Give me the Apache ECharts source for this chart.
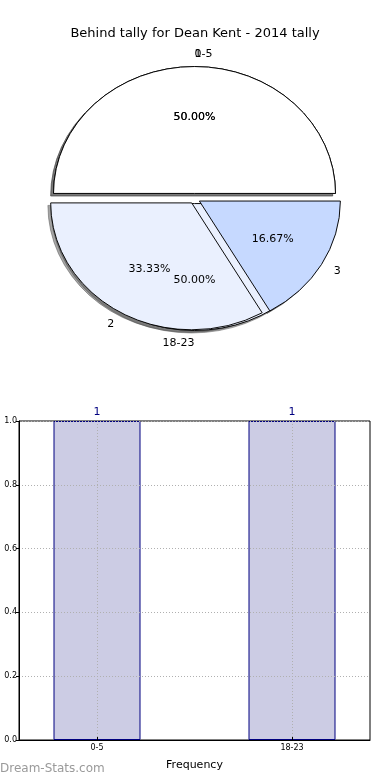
<!DOCTYPE html>
<html>
<head>
<meta charset="utf-8">
<script src="https://cdn.jsdelivr.net/npm/echarts@6/dist/echarts.min.js"></script>
<style>
html,body{margin:0;padding:0;background:#fff;}
#chart{width:390px;height:780px;}
</style>
</head>
<body>
<div id="chart"></div>
<script>
// ---- data ----
var titleText = 'Behind tally for Dean Kent - 2014 tally';
var pieACategories = ['0-5', '18-23'];
var pieAValues = [1, 1];
var pieBCategories = ['1', '2', '3'];
var pieBValues = [3, 2, 1];
var barCategories = ['0-5', '18-23'];
var barValues = [1, 1];

// ---- style / layout ----
var pieAColors = ['#ffffff', '#eaf0fe'];
var pieBColors = ['#ffffff', '#eaf0fe', '#c6d9ff'];
var CX = 194.5, CY = 198.5, R = 141, SY = 0.9, EXPLODE = 0.04;
var SHX = -2.8, SHY = 2.5;
var FONT = 'DejaVu Sans';

function geom(vals, i) {
  var total = vals.reduce(function (a, b) { return a + b; }, 0);
  var t1 = 0;
  for (var k = 0; k < i; k++) t1 += vals[k] / total;
  var t2 = t1 + vals[i] / total;
  var mid = Math.PI * (t1 + t2);
  var cx = CX + EXPLODE * R * Math.cos(mid);
  var cy = CY - EXPLODE * R * SY * Math.sin(mid);
  return { a1: 2 * Math.PI * t1, a2: 2 * Math.PI * t2, mid: mid, cx: cx, cy: cy, frac: vals[i] / total };
}

function sectorEl(g, dx, dy, fill, stroke) {
  return {
    type: 'sector',
    x: g.cx + dx, y: g.cy + dy, scaleY: SY,
    shape: { cx: 0, cy: 0, r: R, r0: 0, startAngle: -g.a1, endAngle: -g.a2, clockwise: false },
    style: { fill: fill, stroke: stroke, lineWidth: 1, strokeNoScale: true }
  };
}

function pieSeries(cats, vals, colors, role, z) {
  return {
    type: 'custom',
    coordinateSystem: 'none',
    z: z,
    silent: true,
    data: vals.map(function (v, i) { return { name: cats[i], value: [v] }; }),
    renderItem: function (params, api) {
      var i = params.dataIndex;
      var g = geom(vals, i);
      if (role === 'shadow') {
        return sectorEl(g, SHX, SHY, 'rgba(77,77,77,0.5)', 'rgba(77,77,77,0.5)');
      }
      if (role === 'wedge') {
        return sectorEl(g, 0, 0, colors[i], '#000');
      }
      var c = Math.cos(g.mid), s = Math.sin(g.mid);
      var lx = g.cx + 1.1 * R * c, ly = g.cy - 1.1 * R * SY * s;
      var px = g.cx + 0.6 * R * c, py = g.cy - 0.6 * R * SY * s;
      return {
        type: 'group',
        children: [
          { type: 'text', x: lx, y: ly, style: { text: cats[i], fill: '#000', fontSize: 11, fontFamily: FONT, align: c > 0 ? 'left' : 'right', verticalAlign: 'middle' } },
          { type: 'text', x: px, y: py, style: { text: (g.frac * 100).toFixed(2) + '%', fill: '#000', fontSize: 11, fontFamily: FONT, align: 'center', verticalAlign: 'middle' } }
        ]
      };
    }
  };
}

var chart = echarts.init(document.getElementById('chart'), null, { renderer: 'canvas' });

var option = {
  animation: false,
  backgroundColor: '#fff',
  textStyle: { fontFamily: FONT },
  title: {
    text: titleText, left: 'center', top: 22,
    textStyle: { fontSize: 13, fontWeight: 'normal', color: '#000', fontFamily: FONT }
  },
  grid: { left: 19, right: 20, top: 421, bottom: 40, show: true, borderColor: '#000', borderWidth: 1, backgroundColor: 'transparent' },
  xAxis: {
    type: 'value', min: -0.4, max: 1.4, z: 5,
    name: 'Frequency', nameLocation: 'middle', nameGap: 20,
    nameTextStyle: { fontSize: 11, color: '#000', fontFamily: FONT },
    axisLine: { show: true, onZero: false, lineStyle: { color: '#000' } },
    axisTick: { show: true, inside: true, length: 3, customValues: [0, 1], lineStyle: { color: '#000' } },
    axisLabel: {
      customValues: [0, 1], fontSize: 8, color: '#000', margin: 4,
      formatter: function (v) { return barCategories[Math.round(v)]; }
    },
    splitLine: { show: false }
  },
  yAxis: {
    type: 'value', min: 0, max: 1, interval: 0.2, z: 5,
    axisLine: { show: true, onZero: false, lineStyle: { color: '#000' } },
    axisTick: { show: true, length: 3, lineStyle: { color: '#000' } },
    axisLabel: { fontSize: 8, color: '#000', margin: 2, formatter: function (v) { return v.toFixed(1); } },
    splitLine: { show: true, lineStyle: { color: '#b0b0b0', type: [1, 2], width: 1 } }
  },
  graphic: [
    { type: 'text', left: 0, top: 763, style: { text: 'Dream-Stats.com', fill: '#9a9a9a', fontSize: 12, fontWeight: 'normal', fontFamily: FONT } }
  ],
  series: [
    pieSeries(pieACategories, pieAValues, pieAColors, 'shadow', 1),
    pieSeries(pieBCategories, pieBValues, pieBColors, 'shadow', 1),
    pieSeries(pieACategories, pieAValues, pieAColors, 'wedge', 2),
    pieSeries(pieBCategories, pieBValues, pieBColors, 'wedge', 3),
    pieSeries(pieACategories, pieAValues, pieAColors, 'label', 4),
    pieSeries(pieBCategories, pieBValues, pieBColors, 'label', 4),
    {
      type: 'bar',
      z: 2,
      barWidth: 87,
      data: barValues.map(function (v, i) { return [i, v]; }),
      itemStyle: { color: '#ccccE4', borderColor: '#000080', borderWidth: 1 },
      label: { show: true, position: 'top', distance: 3, color: '#000080', fontSize: 11, fontFamily: FONT, formatter: function (p) { return String(p.value[1]); } },
      markLine: {
        silent: true, symbol: 'none', label: { show: false },
        lineStyle: { color: '#b0b0b0', type: [1, 2], width: 1 },
        data: [{ xAxis: 0 }, { xAxis: 1 }]
      }
    }
  ]
};
chart.setOption(option);
</script>
</body>
</html>
